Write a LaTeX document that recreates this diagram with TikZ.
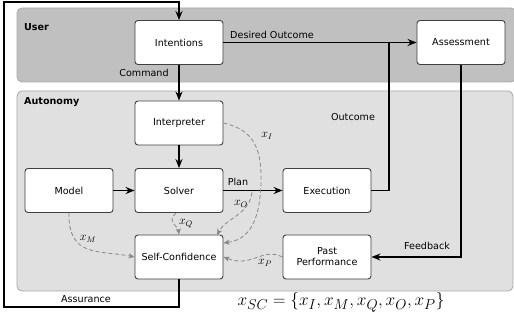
\documentclass[tikz,border=0pt]{standalone}
\usepackage{fontspec}
\setmainfont{DejaVu Sans}
\usetikzlibrary{arrows.meta}
\definecolor{usergray}{HTML}{C0C0C0}
\definecolor{autogray}{HTML}{E0E0E0}
\definecolor{regionedge}{HTML}{A8A8A8}
\definecolor{boxedge}{HTML}{404040}
\definecolor{dashgray}{HTML}{888888}
\begin{document}
\begin{tikzpicture}[x=1pt,y=-1pt,
  font=\fontsize{9.6}{11}\selectfont,
  region/.style={draw=regionedge,line width=0.8pt,rounded corners=5pt},
  blockbox/.style={draw=boxedge,fill=white,line width=0.9pt,rounded corners=3pt,
    minimum width=88pt,minimum height=44pt,inner sep=1pt,align=center},
  flow/.style={line width=1.4pt,-{Stealth[length=9pt,width=7pt,inset=3pt]}},
  plainflow/.style={line width=1.4pt},
  conf/.style={draw=dashgray,dashed,dash pattern=on 4pt off 2.5pt,line width=0.8pt,
    -{Stealth[length=6pt,width=5pt,inset=1.5pt]}},
  lab/.style={inner sep=1pt},
  mlab/.style={inner sep=1pt,font=\fontsize{12}{14}\selectfont}]
\useasboundingbox (0,0) rectangle (514,320);
% regions
\fill[usergray,rounded corners=5pt] (17,8) rectangle (516,82);
\draw[region] (17,8) rectangle (516,82);
\fill[autogray,rounded corners=5pt] (17,91) rectangle (513,291);
\draw[region] (17,91) rectangle (513,291);
\node[anchor=west,font=\bfseries\fontsize{9.6}{11}\selectfont,inner sep=0] at (24,27) {User};
\node[anchor=west,font=\bfseries\fontsize{9.6}{11}\selectfont,inner sep=0] at (24,102) {Autonomy};
% nodes
\node[blockbox] (int) at (179,42.5) {Intentions};
\node[blockbox] (ass) at (461,42.5) {Assessment};
\node[blockbox] (itp) at (179,123) {Interpreter};
\node[blockbox] (mod) at (69,190.5) {Model};
\node[blockbox] (sol) at (179,190.5) {Solver};
\node[blockbox] (exe) at (327,190.5) {Execution};
\node[blockbox] (sc) at (179,257) {Self-Confidence};
\node[blockbox] (pp) at (327,257) {Past\\Performance};
\coordinate (topleft) at (4,2);
\coordinate (botleft) at (4,307);
\coordinate (junc) at (389,42.5);
% solid connectors
\draw[flow] (sc.south) -- (sc.south |- botleft) -- (botleft) -- (topleft) -- (int.north |- topleft) -- (int.north);
\draw[flow] (int) -- (itp);
\draw[flow] (int) -- (ass);
\draw[flow] (itp) -- (sol);
\draw[flow] (mod) -- (sol);
\draw[flow] (sol) -- (exe);
\draw[plainflow] (exe.east) -| (junc);
\draw[flow] (ass.south) |- (pp.east);
% labels
\node[lab] at (144,73) {Command};
\node[lab] at (272,35) {Desired Outcome};
\node[lab] at (353,117) {Outcome};
\node[lab] at (238,182) {Plan};
\node[lab] at (427,246) {Feedback};
\node[lab] at (86,299) {Assurance};
% dashed self-confidence inputs
\coordinate (xo) at (252,192.5);
\draw[conf] (itp.east) .. controls (255,130) and (262,150) .. (261,185) .. controls (259,228) and (245,240) .. (sc.east |- 0,243);
\draw[conf] (xo) .. controls (249,215) and (226,218) .. (217,235);
\draw[conf] (sol.south -| 176,0) .. controls (166,222) and (178,226) .. (sc.north);
\draw[conf] (mod.south) .. controls (68,258) and (100,250) .. (sc.west);
\draw[conf] (pp.west) .. controls (262,247) and (252,268) .. (sc.east);
\node[mlab] at (267,136) {$x_I$};
\node[mlab] at (241,204) {$x_O$};
\node[mlab] at (186,224) {$x_Q$};
\node[mlab] at (88,239) {$x_M$};
\node[mlab] at (265,263) {$x_P$};
% formula
\node[inner sep=0,font=\fontsize{19}{22}\selectfont] (formula) at (341,302) {$x_{SC}=\{x_I,x_M,x_Q,x_O,x_P\}$};
\end{tikzpicture}
\end{document}
